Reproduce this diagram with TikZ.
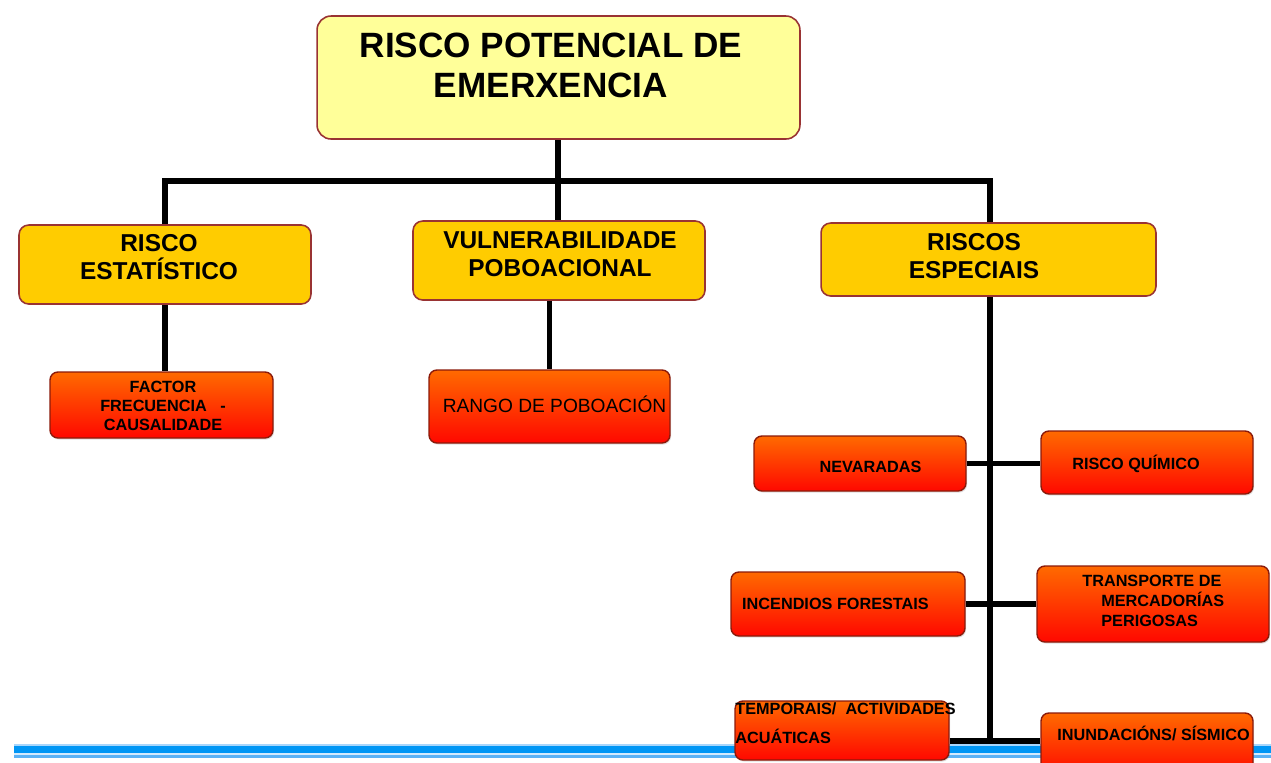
\documentclass[tikz,border=0pt]{standalone}
\usepackage{fontspec}
\setmainfont{Liberation Sans}
\usetikzlibrary{positioning,shadows}
\definecolor{paleyellow}{HTML}{FFFF99}
\definecolor{gold}{HTML}{FFCC00}
\definecolor{boxline}{HTML}{993333}
\definecolor{redtop}{HTML}{FF6A00}
\definecolor{redbot}{HTML}{FF0800}
\definecolor{redline}{HTML}{8B1A0A}
\definecolor{rulemain}{HTML}{0096F5}
\definecolor{rulelight}{HTML}{A9D6FB}
\definecolor{rulepale}{HTML}{D4EAFD}
\definecolor{rulelow}{HTML}{5CB2F5}

\begin{document}
\begin{tikzpicture}[x=0.02cm,y=-0.02cm,
  conn/.style={line width=3.4pt,black},
  topbox/.style={draw=boxline,line width=0.9pt,fill=paleyellow,rounded corners=8pt,inner sep=0pt,minimum width=9.66cm,minimum height=2.46cm},
  midbox/.style={draw=boxline,line width=0.9pt,fill=gold,rounded corners=5.5pt,inner sep=0pt},
  redbox/.style={draw=redline,line width=0.8pt,top color=redtop,bottom color=redbot,rounded corners=4.5pt,inner sep=0pt,
    drop shadow={opacity=0.25,shadow xshift=0.6pt,shadow yshift=-0.9pt}},
  toptxt/.style={font=\bfseries\fontsize{20}{22.7}\selectfont,align=center,inner sep=0pt},
  midtxt/.style={font=\bfseries\fontsize{13.9}{15.9}\selectfont,align=center,inner sep=0pt},
  redtxt/.style={font=\bfseries\fontsize{9.25}{10.8}\selectfont,align=center,inner sep=0pt}]
\useasboundingbox (0,0) rectangle (1271,762);

% blue rule at the foot
\fill[rulelight] (14,743.5) rectangle (1271,746);
\fill[rulemain] (14,746) rectangle (1271,752.5);
\fill[rulepale] (14,752.5) rectangle (1271,754.5);
\fill[rulelow] (14,754.5) rectangle (1271,758);

% boxes
\node[topbox] (top) at (558.5,77.5) {};
\node[midbox,minimum width=5.84cm,minimum height=1.58cm] (stat) at (165,264.5) {};
\node[midbox,minimum width=5.84cm,minimum height=1.58cm] (vuln) at (559,260.5) {};
\node[midbox,minimum width=6.7cm,minimum height=1.46cm] (espec) at (988.5,259.5) {};
\node[redbox,minimum width=4.46cm,minimum height=1.32cm] (freq) at (161.5,405) {};
\node[redbox,minimum width=4.82cm,minimum height=1.46cm] (rango) at (549.5,406.5) {};
\node[redbox,minimum width=4.24cm,minimum height=1.1cm] (nev) at (860,463.5) {};
\node[redbox,minimum width=4.24cm,minimum height=1.26cm] (quim) at (1147,462.5) {};
\node[redbox,minimum width=4.68cm,minimum height=1.28cm] (inc) at (848,604) {};
\node[redbox,minimum width=4.64cm,minimum height=1.52cm] (transp) at (1153,604) {};
\node[redbox,minimum width=4.28cm,minimum height=1.18cm] (temp) at (842,730.5) {};
\node[redbox,minimum width=4.24cm,minimum height=1.26cm] (inund) at (1147,744.5) {};

% texts
\node[toptxt] (top-t) at (551,65) {RISCO POTENCIAL DE\\EMERXENCIA};
\node[midtxt] (stat-t) at (159,257.5) {RISCO\\ESTATÍSTICO};
\node[midtxt] (vuln-t) at (560,254) {VULNERABILIDADE\\POBOACIONAL};
\node[midtxt] (espec-t) at (974,256.5) {RISCOS\\ESPECIAIS};
\node[redtxt] (freq-t) at (163,406) {FACTOR\\FRECUENCIA\ \ \ -\\CAUSALIDADE};
\node[font=\fontsize{10.9}{13}\selectfont,inner sep=0pt] (rango-t) at (554.5,404) {RANGO DE POBOACIÓN};
\node[redtxt] (nev-t) at (870.5,467) {NEVARADAS};
\node[redtxt] (quim-t) at (1136,464) {RISCO QUÍMICO};
\node[redtxt] (inc-t) at (835.5,604) {INCENDIOS FORESTAIS};
\node[redtxt,font=\bfseries\fontsize{9.25}{11.6}\selectfont,align=left,anchor=west] (transp-t) at (1082,601)
  {TRANSPORTE DE\\\hspace*{10.8pt}MERCADORÍAS\\\hspace*{10.8pt}PERIGOSAS};
\node[redtxt,font=\bfseries\fontsize{9.25}{16.4}\selectfont,align=left,anchor=west] (temp-t) at (735,723.5)
  {TEMPORAIS/\ \ ACTIVIDADES\\ACUÁTICAS};
\node[redtxt] (inund-t) at (1153.5,733) {INUNDACIÓNS/ SÍSMICO};

% connectors
\coordinate (bus) at (558,181);
\coordinate (trunk) at (990,741);
\draw[conn] (bus |- top.south) -- (bus |- vuln.north);
\draw[conn] (stat.north) |- (bus) -| (trunk |- espec.north);
\draw[conn] (stat.south) -- (stat.south |- freq.north);
\draw[conn] (rango.north |- vuln.south) -- (rango.north);
\draw[conn] (trunk |- espec.south) -- (trunk);
\draw[conn] (nev.east) -- (nev.east -| quim.west);
\draw[conn] (inc.east) -- (transp.west);
\draw[conn] (temp.east |- trunk) -- (inund.west |- trunk);
\end{tikzpicture}
\end{document}
